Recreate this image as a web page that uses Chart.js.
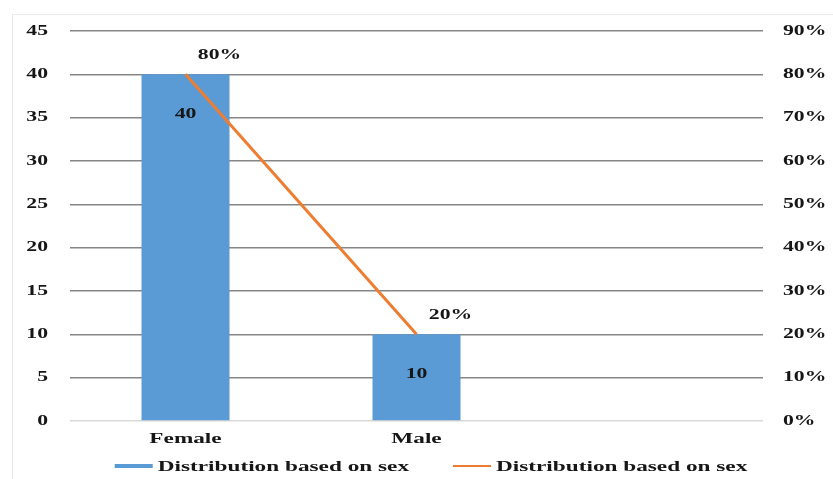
<!DOCTYPE html>
<html>
<head>
<meta charset="utf-8">
<script src="https://cdn.jsdelivr.net/npm/chart.js@4.4.1/dist/chart.umd.min.js"></script>
<style>
  html, body { margin: 0; padding: 0; background: #ffffff; }
  #wrap { position: relative; width: 833px; height: 479px; overflow: hidden; }
  #frame { position: absolute; left: 12px; top: 14px; right: -4px; bottom: -4px;
           border-left: 1px solid #e4e4e4; border-top: 1px solid #ececec; pointer-events: none; }
  canvas { position: absolute; left: 0; top: 0; }
</style>
</head>
<body>
<div id="wrap">
  <canvas id="chart" width="833" height="479"></canvas>
  <div id="frame"></div>
</div>
<script>
// Categories (third slot is an empty category on the axis)
const categories = ['Female', 'Male', ''];
// Counts per sex (left axis)
const counts = [40, 10, null];
// Share per sex in percent (right axis)
const shares = [80, 20, null];
// Axis tick settings
const countTicks = { min: 0, max: 45, step: 5 };
const shareTicks = { min: 0, max: 90, step: 10 };
const seriesName = 'Distribution based on sex';

const FONT = '"Liberation Serif", "Times New Roman", serif';
const BLUE = '#5B9BD5';
const ORANGE = '#ED7D31';
const INK = '#161616';
// Horizontal stretch applied to all lettering (wide bold face)
const TEXT_STRETCH = 1.55;

const canvas = document.getElementById('chart');
const g = canvas.getContext('2d');

// Wide lettering: every fillText is drawn stretched around its anchor point,
// and measureText reports the stretched width so the axes lay out correctly.
(function widenText(ctx, sx) {
  const rawFill = ctx.fillText.bind(ctx);
  const rawMeasure = ctx.measureText.bind(ctx);
  ctx.fillText = function (text, x, y, maxWidth) {
    ctx.save();
    ctx.translate(x, y);
    ctx.scale(sx, 1);
    if (maxWidth !== undefined) rawFill(text, 0, 0, maxWidth / sx);
    else rawFill(text, 0, 0);
    ctx.restore();
  };
  ctx.measureText = function (text) {
    const m = rawMeasure(text);
    return {
      width: m.width * sx,
      actualBoundingBoxLeft: m.actualBoundingBoxLeft * sx,
      actualBoundingBoxRight: m.actualBoundingBoxRight * sx,
      actualBoundingBoxAscent: m.actualBoundingBoxAscent,
      actualBoundingBoxDescent: m.actualBoundingBoxDescent,
      fontBoundingBoxAscent: m.fontBoundingBoxAscent,
      fontBoundingBoxDescent: m.fontBoundingBoxDescent
    };
  };
})(g, TEXT_STRETCH);

// Value labels: inside the top of each bar, and above-right of each line point
const valueLabels = {
  id: 'valueLabels',
  afterDatasetsDraw(chart) {
    const ctx = chart.ctx;
    ctx.save();
    ctx.font = 'bold 14px ' + FONT;
    ctx.fillStyle = INK;
    ctx.textAlign = 'center';
    ctx.textBaseline = 'middle';
    chart.getDatasetMeta(0).data.forEach((el, i) => {
      const v = counts[i];
      if (v == null) return;
      ctx.fillText(String(v), el.x, el.y + 40);
    });
    chart.getDatasetMeta(1).data.forEach((el, i) => {
      const v = shares[i];
      if (v == null) return;
      ctx.fillText(v + '%', el.x + 34, el.y - 19);
    });
    ctx.restore();
  }
};

// Legend row under the category labels: a short line swatch before each series name
const legendRow = {
  id: 'legendRow',
  afterDraw(chart) {
    const ctx = chart.ctx;
    const sw = 38, gap = 5, itemGap = 44, cx = 431, y = chart.height - 12;
    ctx.save();
    ctx.font = 'bold 15px ' + FONT;
    const items = chart.data.datasets.map((ds) => ({
      text: ds.label,
      color: ds.type === 'bar' ? ds.backgroundColor : ds.borderColor,
      thick: ds.type === 'bar' ? 4 : 2,
      w: ctx.measureText(ds.label).width
    }));
    let total = 0;
    items.forEach((it, i) => { total += sw + gap + it.w + (i ? itemGap : 0); });
    let x = cx - total / 2;
    items.forEach((it) => {
      ctx.fillStyle = it.color;
      ctx.fillRect(x, y - it.thick / 2 - 1, sw, it.thick);
      ctx.fillStyle = INK;
      ctx.textAlign = 'left';
      ctx.textBaseline = 'middle';
      ctx.fillText(it.text, x + sw + gap, y);
      x += sw + gap + it.w + itemGap;
    });
    ctx.restore();
  }
};

new Chart(canvas, {
  data: {
    labels: categories,
    datasets: [
      {
        type: 'bar',
        label: seriesName,
        data: counts,
        backgroundColor: BLUE,
        borderWidth: 0,
        yAxisID: 'y',
        categoryPercentage: 1,
        barPercentage: 0.381,
        order: 2
      },
      {
        type: 'line',
        label: seriesName,
        data: shares,
        borderColor: ORANGE,
        backgroundColor: ORANGE,
        borderWidth: 3,
        pointRadius: 0,
        tension: 0,
        spanGaps: false,
        yAxisID: 'y1',
        order: 1
      }
    ]
  },
  options: {
    responsive: false,
    animation: false,
    devicePixelRatio: 1,
    layout: { padding: { top: 31, left: 0, right: 0, bottom: 22 } },
    plugins: {
      tooltip: { enabled: false },
      legend: { display: false }
    },
    scales: {
      x: {
        grid: { display: false, drawTicks: false },
        border: { display: false },
        ticks: {
          font: { family: FONT, size: 15, weight: 'bold' },
          color: INK,
          padding: 9
        }
      },
      y: {
        position: 'left',
        min: countTicks.min,
        max: countTicks.max,
        ticks: {
          stepSize: countTicks.step,
          font: { family: FONT, size: 14, weight: 'bold' },
          color: INK,
          padding: 22
        },
        grid: {
          color: (c) => (c.tick && c.tick.value === 0) ? '#d9d9d9' : '#868686',
          lineWidth: 1.4,
          drawTicks: false
        },
        border: { display: false },
        afterFit(scale) { scale.width = 70; }
      },
      y1: {
        position: 'right',
        min: shareTicks.min,
        max: shareTicks.max,
        ticks: {
          stepSize: shareTicks.step,
          font: { family: FONT, size: 14, weight: 'bold' },
          color: INK,
          padding: 20,
          callback: (v) => v + '%'
        },
        grid: { display: false, drawTicks: false },
        border: { display: false },
        afterFit(scale) { scale.width = 70; }
      }
    }
  },
  plugins: [valueLabels, legendRow]
});
</script>
</body>
</html>
